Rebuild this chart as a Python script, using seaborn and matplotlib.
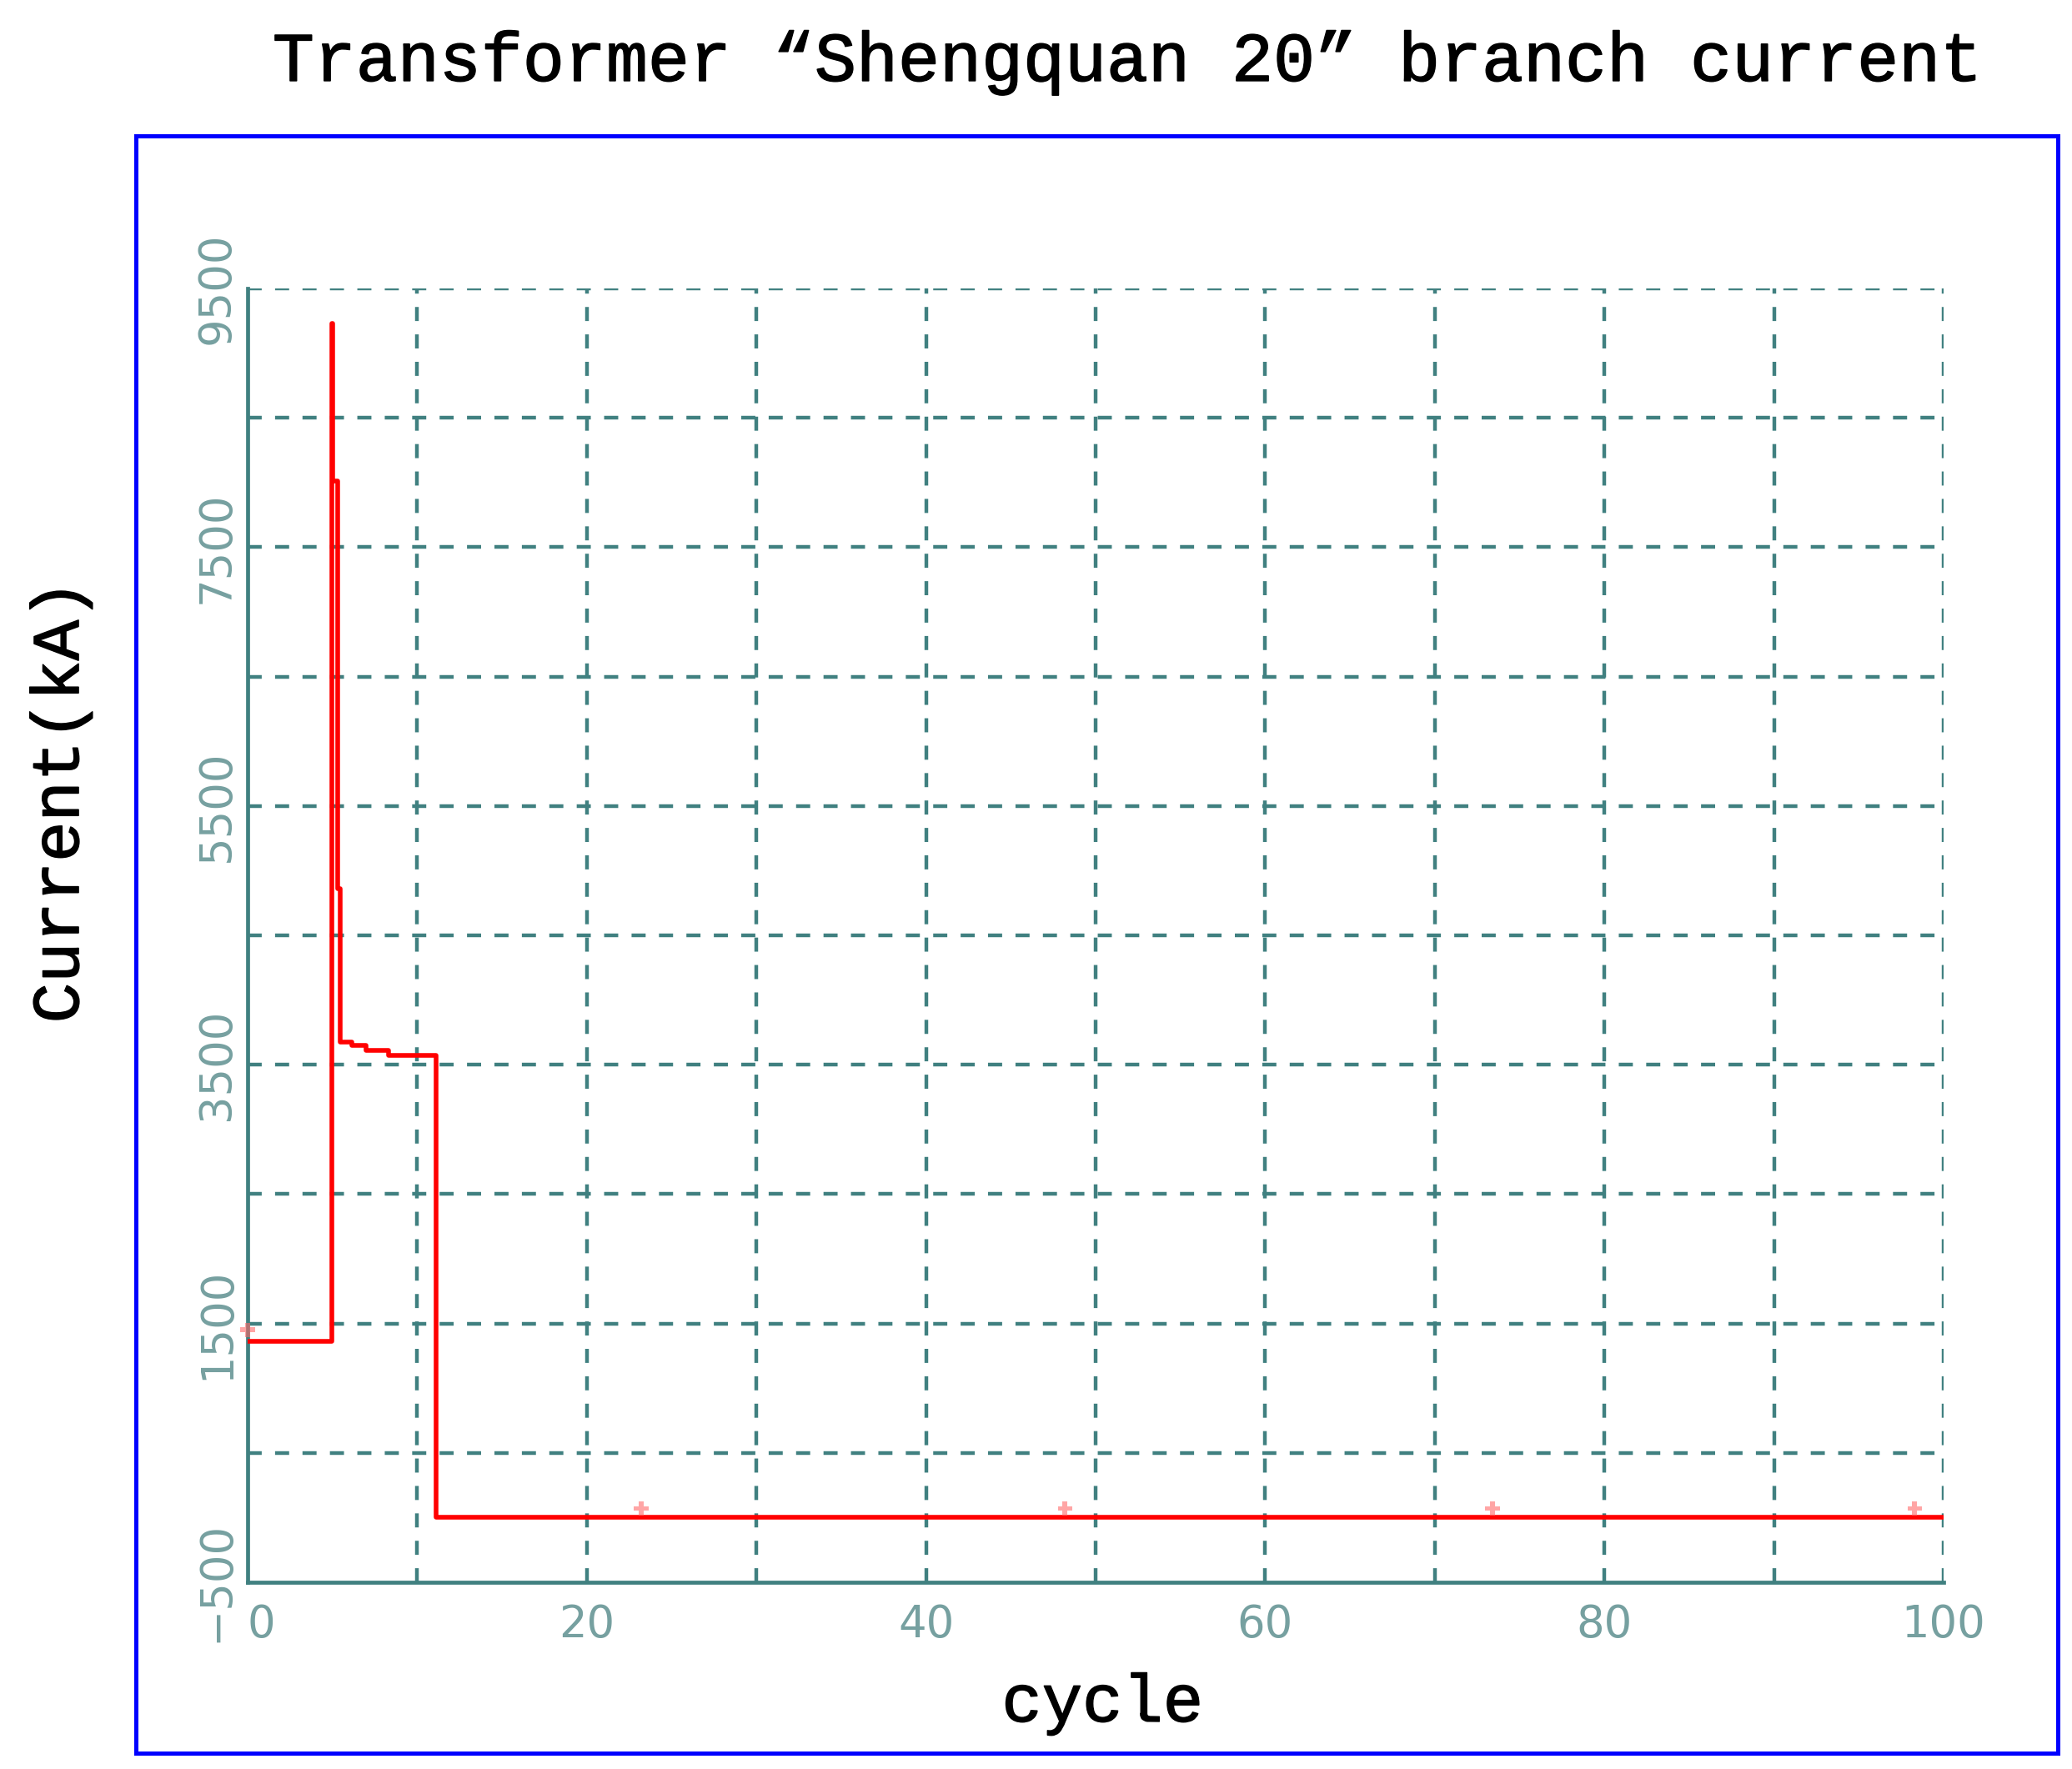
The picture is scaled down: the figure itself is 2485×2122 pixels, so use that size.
import matplotlib
matplotlib.use("Agg")
import matplotlib.pyplot as plt
import matplotlib.patheffects as pe
from matplotlib.patches import Rectangle
import seaborn as sns
import pandas as pd
import numpy as np

# Step breakpoints of the branch current (kA) against cycle
cycle = [0, 4.97, 5.02, 5.3, 5.46, 6.15, 6.98, 8.31, 11.1, 100]
current = [1360, 9230, 8010, 4860, 3678, 3647, 3609, 3575, 0, 0]

# small markers along the trace
mark_cycle = [0, 23.2, 48.2, 73.4, 98.3]
mark_current = [1450, 70, 70, 70, 70]

x_ticks = [0, 20, 40, 60, 80, 100]
y_ticks = [-500, 1500, 3500, 5500, 7500, 9500]

sns.set_style("white")
plt.rcParams['font.family'] = ['DejaVu Sans']

teal = '#408080'
tick_col = '#76a0a0'
label_font = ['Liberation Mono', 'DejaVu Sans']
thick = [pe.withStroke(linewidth=1.1, foreground='black')]

fig = plt.figure(figsize=(24.85, 21.22), dpi=100)
ax = fig.add_axes([0.1195, 0.1056, 0.8185, 0.7313])

# dashed grid every 10 cycles / 1000 kA
for gx in np.arange(10, 101, 10):
    ax.axvline(gx, color=teal, lw=3.2, ls=(0, (3.8, 3.6)), zorder=1)
for gy in np.arange(500, 9501, 1000):
    ax.axhline(gy, color=teal, lw=3.2, ls=(0, (3.8, 3.6)), zorder=1)

df = pd.DataFrame({'cycle': cycle, 'current': current})
sns.lineplot(data=df, x='cycle', y='current', ax=ax, color='#ff0000',
             drawstyle='steps-post', estimator=None, sort=False, zorder=3)
ax.lines[-1].set_linewidth(4)

mk = pd.DataFrame({'cycle': mark_cycle, 'current': mark_current})
sns.scatterplot(data=mk, x='cycle', y='current', ax=ax, marker='P', s=160,
                color='#ff6a6a', alpha=0.6, edgecolor='none', zorder=4, clip_on=False)

ax.set_xlim(0, 100)
ax.set_ylim(-500, 9500)
ax.set_xticks(x_ticks)
ax.set_yticks(y_ticks)
ax.set_xlabel('')
ax.set_ylabel('')
ax.tick_params(axis='both', length=0, labelsize=38, labelcolor=tick_col)
ax.tick_params(axis='x', pad=18)
ax.tick_params(axis='y', pad=8, labelrotation=90)
for lab in ax.get_yticklabels():
    lab.set_va('center')
ax.get_xticklabels()[0].set_ha('left')

for side in ['top', 'right']:
    ax.spines[side].set_visible(False)
for side in ['left', 'bottom']:
    ax.spines[side].set_color(teal)
    ax.spines[side].set_linewidth(3.4)

fig.text(0.544, 0.9647, 'Transformer “Shengquan 20” branch current', color='black',
         ha='center', va='center', fontsize=60, family=label_font, path_effects=thick)
fig.text(0.0294, 0.5467, 'Current(kA)', rotation=90, ha='center', va='center', color='black',
         fontsize=58, family=label_font, path_effects=thick)
fig.text(0.532, 0.0368, 'cycle', ha='center', va='center', color='black',
         fontsize=58, family=label_font, path_effects=thick)

# blue frame around the plotting area
fig.add_artist(Rectangle((0.0656, 0.009), 0.9276, 0.9142, transform=fig.transFigure,
                         fill=False, edgecolor='#0000ff', lw=3.6))

fig.savefig('out.png', dpi=100)
